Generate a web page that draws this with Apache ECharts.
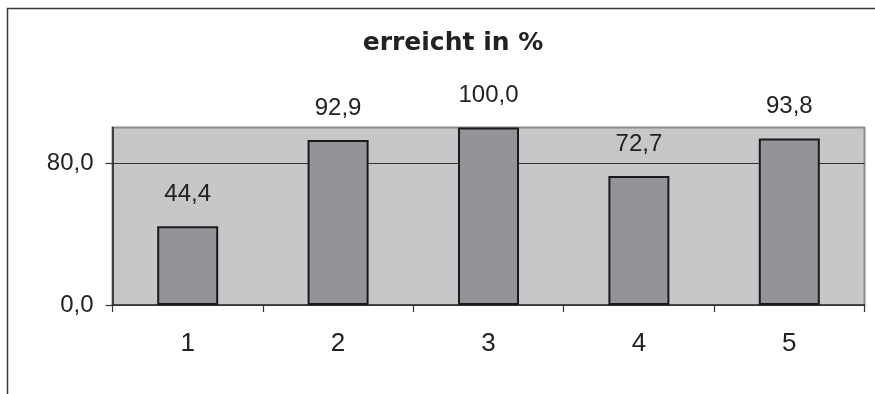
<!DOCTYPE html>
<html>
<head>
<meta charset="utf-8">
<script src="https://cdn.jsdelivr.net/npm/echarts@6/dist/echarts.min.js"></script>
<style>
  html, body { margin: 0; padding: 0; background: #ffffff; }
  #chart { width: 875px; height: 394px; }
</style>
</head>
<body>
<div id="chart"></div>
<script>
// Categories and achieved percentages
const categories = ['1', '2', '3', '4', '5'];
const achieved = [44.4, 92.9, 100.0, 72.7, 93.8];
const yTickValues = [0, 80];

const fmt = v => v.toFixed(1).replace('.', ',');

const chart = echarts.init(document.getElementById('chart'), null, { renderer: 'canvas' });

chart.setOption({
  backgroundColor: '#ffffff',
  animation: false,
  title: {
    text: 'erreicht in %',
    left: 448,
    top: 26,
    textAlign: 'center',
    textStyle: {
      fontFamily: 'DejaVu Sans',
      fontWeight: 'bold',
      fontSize: 25,
      color: '#222222'
    }
  },
  graphic: [{
    type: 'rect',
    left: 5,
    top: 6,
    shape: { width: 900, height: 500 },
    style: { fill: 'none', stroke: '#3a3a3a', lineWidth: 1.5 },
    silent: true,
    z: -1
  }],
  grid: {
    left: 112.5,
    right: 10.5,
    top: 127.5,
    bottom: 89,
    show: true,
    backgroundColor: '#c6c7c9',
    borderColor: '#8c8c8c',
    borderWidth: 2
  },
  xAxis: {
    type: 'category',
    data: categories,
    boundaryGap: true,
    axisLine: { show: true, lineStyle: { color: '#333333', width: 1.5 } },
    axisTick: { show: true, alignWithLabel: false, length: 7, lineStyle: { color: '#333333', width: 1.2 } },
    axisLabel: {
      margin: 26,
      fontFamily: 'Liberation Sans',
      fontSize: 26,
      color: '#222222'
    },
    splitLine: { show: false }
  },
  yAxis: {
    type: 'value',
    min: 0,
    max: 100,
    interval: 80,
    axisLine: { show: true, lineStyle: { color: '#222222', width: 1.5 } },
    axisTick: { show: true, customValues: yTickValues, length: 7, lineStyle: { color: '#333333', width: 1.2 } },
    axisLabel: {
      customValues: yTickValues,
      margin: 19,
      fontFamily: 'Liberation Sans',
      fontSize: 24,
      color: '#222222',
      formatter: v => fmt(v)
    },
    splitLine: {
      show: true,
      lineStyle: { color: ['#333333', '#333333', '#8c8c8c'], width: 1 }
    }
  },
  series: [{
    type: 'bar',
    data: achieved,
    barWidth: 61,
    itemStyle: {
      color: '#939497',
      borderColor: '#1a1a1a',
      borderWidth: 2
    },
    label: {
      show: true,
      position: 'top',
      distance: 20,
      fontFamily: 'Liberation Sans',
      fontSize: 24,
      color: '#222222',
      formatter: p => fmt(p.value)
    }
  }]
});
</script>
</body>
</html>
